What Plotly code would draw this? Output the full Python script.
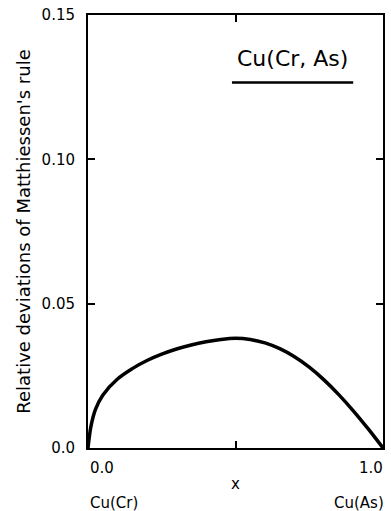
import plotly.graph_objects as go

# Data
x_vals = [0.0, 0.01, 0.025, 0.05, 0.1, 0.15, 0.2, 0.25, 0.3, 0.35, 0.4, 0.45, 0.5,
          0.55, 0.6, 0.65, 0.7, 0.75, 0.8, 0.85, 0.9, 0.95, 1.0]
y_vals = [0.0, 0.0075, 0.0133, 0.0183, 0.0239, 0.0275, 0.0303, 0.0325, 0.0343, 0.0357,
          0.0368, 0.0376, 0.0380, 0.0376, 0.0364, 0.0344, 0.0316, 0.0280, 0.0236, 0.0185,
          0.0128, 0.0066, 0.0]
y_tickvals = [0.0, 0.05, 0.10, 0.15]
y_ticktext = ["0.0", "0.05", "0.10", "0.15"]
x_tickvals = [0.0, 0.5, 1.0]
title_text = "Cu(Cr, As)"
y_title = "Relative deviations of Matthiessen's rule"
x_title = "x"
left_end = "Cu(Cr)"
right_end = "Cu(As)"

FONT = "DejaVu Sans"

fig = go.Figure()
fig.add_trace(go.Scatter(
    x=x_vals, y=y_vals, mode="lines",
    line=dict(color="black", width=3.5, shape="spline", smoothing=1.0),
    cliponaxis=False, hoverinfo="skip", showlegend=False))

fig.update_layout(
    width=391, height=511,
    margin=dict(l=88, r=6, t=14, b=63),
    paper_bgcolor="white", plot_bgcolor="white",
    font=dict(family=FONT, size=15, color="black"),
    showlegend=False,
)
fig.update_xaxes(
    range=[0, 1], tickvals=x_tickvals, showticklabels=False,
    ticks="inside", ticklen=7, tickwidth=2, tickcolor="black",
    showline=True, linewidth=2, linecolor="black", mirror="ticks",
    showgrid=False, zeroline=False,
)
fig.update_yaxes(
    range=[0, 0.15], tickvals=y_tickvals, ticktext=y_ticktext,
    ticks="inside", ticklen=7, tickwidth=2, tickcolor="black",
    showline=True, linewidth=2, linecolor="black", mirror="ticks",
    showgrid=False, zeroline=False, ticklabelstandoff=8,
    tickfont=dict(family=FONT, size=15),
    title=dict(text=y_title, font=dict(family=FONT, size=18), standoff=6),
)

ann = [
    dict(text="0.0", x=0, y=-0.046, xanchor="left", yanchor="middle"),
    dict(text="1.0", x=1.007, y=-0.046, xanchor="right", yanchor="middle"),
    dict(text=x_title, x=0.5, y=-0.082, xanchor="center", yanchor="middle"),
    dict(text=left_end, x=0, y=-0.127, xanchor="left", yanchor="middle"),
    dict(text=right_end, x=1.01, y=-0.127, xanchor="right", yanchor="middle"),
]
for a in ann:
    fig.add_annotation(xref="paper", yref="paper", showarrow=False,
                       font=dict(family=FONT, size=15, color="black"), **a)

fig.add_annotation(xref="paper", yref="paper", x=0.694, y=0.899,
                   text=title_text, showarrow=False, xanchor="center", yanchor="middle",
                   font=dict(family=FONT, size=22, color="black"))
fig.add_shape(type="line", xref="paper", yref="paper",
              x0=0.488, x1=0.899, y0=0.844, y1=0.844,
              line=dict(color="black", width=2.5))

fig.write_html("out.html", config={"displayModeBar": False},
               post_script="document.body.style.margin='0';document.body.style.padding='0';")
